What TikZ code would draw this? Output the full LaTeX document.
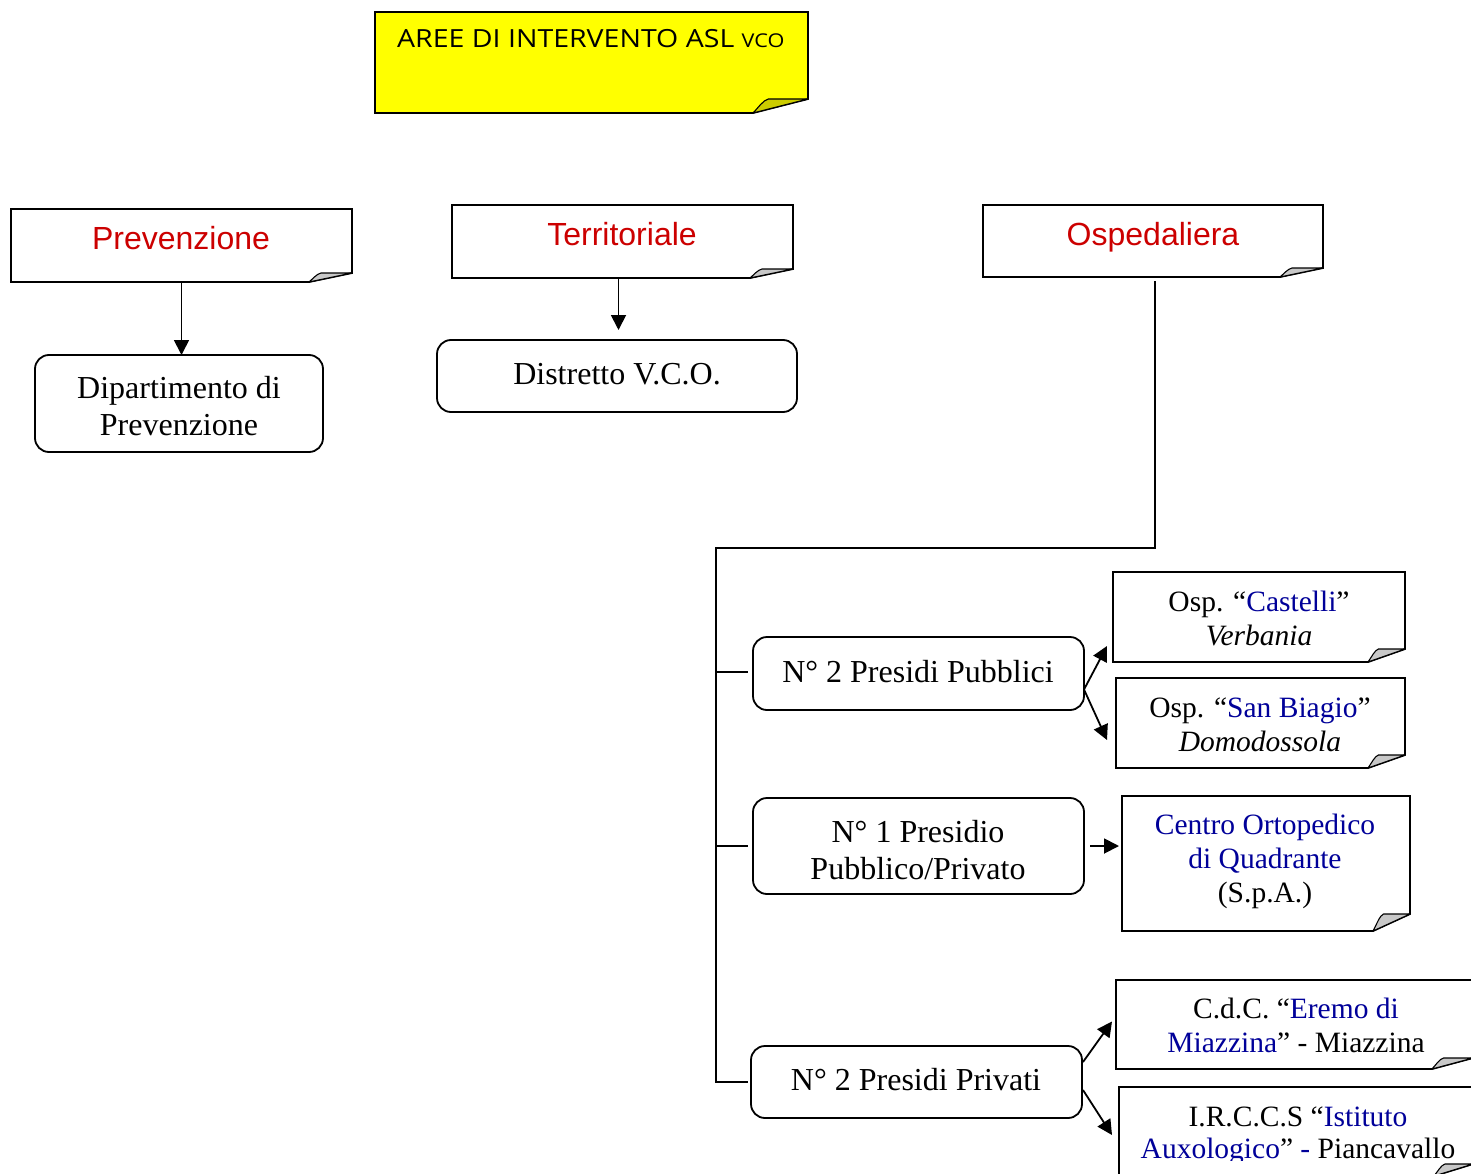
\documentclass[tikz,border=0pt]{standalone}
\usepackage{fontspec}
\setmainfont{Liberation Serif}
\newfontfamily\arialf{Liberation Sans}
\newfontfamily\titlef{Open Sans}
\usetikzlibrary{arrows.meta}
\definecolor{hred}{RGB}{204,0,0}
\definecolor{dblue}{RGB}{0,0,153}
\definecolor{yel}{RGB}{255,255,0}
\definecolor{foldgray}{RGB}{200,200,200}
\definecolor{foldyel}{RGB}{204,204,0}
\newcommand\ml[1]{\begin{tabular}[t]{@{}c@{}}#1\end{tabular}}
\newcommand\bl[1]{\textcolor{dblue}{#1}}
% #1 node, #2 fold width, #3 fold height, #4 fill, #5 fold fill
\newcommand\foldbox[5]{%
  \path[draw=black, line width=1.8pt, fill=#4, line join=miter]
    (#1.north west) -- (#1.north east) -- ([yshift=#3]#1.south east)
    -- ([xshift=-#2]#1.south east) -- (#1.south west) -- cycle;
  \path[draw=black, line width=1.1pt, fill=#5, line join=round]
    ([xshift=-#2]#1.south east)
    .. controls ([xshift=-0.9*#2, yshift=0.4*#3]#1.south east) and ([xshift=-0.82*#2, yshift=0.9*#3]#1.south east)
    .. ([xshift=-0.72*#2, yshift=#3]#1.south east)
    -- ([yshift=#3]#1.south east) -- cycle;}
\begin{document}
\begin{tikzpicture}[x=1pt,y=-1pt,
  shp/.style={rectangle, inner sep=0pt, outer sep=0pt, draw=none},
  rbox/.style={rectangle, rounded corners=14pt, draw, line width=1.8pt, fill=white, inner sep=0pt, outer sep=0pt},
  txt/.style={inner sep=0pt, outer sep=0pt, anchor=base, font=\fontsize{29.5}{34}\selectfont},
  txtr/.style={inner sep=0pt, outer sep=0pt, anchor=base, font=\fontsize{32}{37}\selectfont},
  hdr/.style={inner sep=0pt, outer sep=0pt, anchor=base, font=\arialf\fontsize{32}{38}\selectfont, text=hred},
  conn/.style={line width=1.8pt},
  arr/.style={line width=1.8pt, -{Triangle[length=15pt,width=15pt]}}]

\fill[white] (0,0) rectangle (1471,1174);
\useasboundingbox (0,0) rectangle (1471,1174);

% title
\node[shp, minimum width=433pt, minimum height=101pt] (ybox) at (591.5,62.5) {};
\foldbox{ybox}{55pt}{14pt}{yel}{foldyel}
\node[inner sep=0pt, anchor=base west, font=\titlef\fontsize{25}{28}\selectfont] (ttl) at (397,48)
  {\scalebox{1.14}[1]{AREE DI INTERVENTO ASL {\fontsize{19}{20}\selectfont VCO}}};

% headers
\node[shp, minimum width=341pt, minimum height=73pt] (prev) at (181.5,245.5) {};
\foldbox{prev}{43pt}{9pt}{white}{foldgray}
\node[hdr] (tprev) at (181,250) {Prevenzione};

\node[shp, minimum width=341pt, minimum height=73pt] (terr) at (622.5,241.5) {};
\foldbox{terr}{43pt}{9pt}{white}{foldgray}
\node[hdr] (tterr) at (622,246) {Territoriale};

\node[shp, minimum width=340pt, minimum height=72pt] (osp) at (1153,241) {};
\foldbox{osp}{43pt}{9pt}{white}{foldgray}
\node[hdr] (tosp) at (1153,245) {Ospedaliera};

% rounded boxes
\node[rbox, minimum width=288pt, minimum height=97pt] (dip) at (179,403.5) {};
\node[txtr] (tdip) at (179,398) {\ml{Dipartimento di\\Prevenzione}};

\node[rbox, minimum width=360pt, minimum height=72pt] (dist) at (617,376) {};
\node[txtr] (tdist) at (617,384) {Distretto V.C.O.};

\node[rbox, minimum width=331pt, minimum height=73pt] (pub) at (918.5,673.5) {};
\node[txtr] (tpub) at (918,682) {N° 2 Presidi Pubblici};

\node[rbox, minimum width=331pt, minimum height=96pt] (n1) at (918.5,846) {};
\node[txtr] (tn1) at (918,842) {\ml{N° 1 Presidio\\Pubblico/Privato}};

\node[rbox, minimum width=331pt, minimum height=72pt] (priv) at (916.5,1082) {};
\node[txtr] (tpriv) at (916,1090) {N° 2 Presidi Privati};

% right folded boxes
\node[shp, minimum width=292pt, minimum height=90pt] (cast) at (1259,617) {};
\foldbox{cast}{37pt}{13pt}{white}{foldgray}
\node[txt] (tcast) at (1259,611) {\ml{Osp. “\bl{Castelli}”\\\textit{Verbania}}};

\node[shp, minimum width=289pt, minimum height=90pt] (bia) at (1260.5,723) {};
\foldbox{bia}{37pt}{13pt}{white}{foldgray}
\node[txt] (tbia) at (1260,717) {\ml{Osp. “\bl{San Biagio}”\\\textit{Domodossola}}};

\node[shp, minimum width=288pt, minimum height=135pt] (cen) at (1266,863.5) {};
\foldbox{cen}{37pt}{17pt}{white}{foldgray}
\node[txt] (tcen) at (1265,834) {\ml{\bl{Centro Ortopedico}\\\bl{di Quadrante}\\(S.p.A.)}};

\node[shp, minimum width=357pt, minimum height=89pt] (ere) at (1294.5,1024.5) {};
\foldbox{ere}{41pt}{11pt}{white}{foldgray}
\node[txt] (tere) at (1296,1018) {\ml{C.d.C. “\bl{Eremo di}\\\bl{Miazzina}” - Miazzina}};

\node[shp, minimum width=354pt, minimum height=89pt] (pian) at (1296,1131.5) {};
\foldbox{pian}{39pt}{12pt}{white}{foldgray}
\begin{scope}
\clip (1100,1080) rectangle (1471,1160);
\node[txt, font=\fontsize{29.5}{32}\selectfont] (tpian) at (1298,1126) {\ml{I.R.C.C.S “\bl{Istituto}\\\bl{Auxologico}” \bl{-} Piancavallo}};
\end{scope}

% connectors
\draw[arr] (prev.south) -- (prev.south |- dip.north);
\draw[arr] ([xshift=-4pt]terr.south) -- ([xshift=-4pt, yshift=10pt]terr.south |- dist.north);

\coordinate (jtop) at (1155,548);
\coordinate (jleft) at (716,548);
\draw[conn] ([xshift=2pt, yshift=-4pt]osp.south) -- (jtop) -- (jleft) -- (jleft |- priv.west) -- ([xshift=-3pt]priv.west);
\draw[conn] ([yshift=1.5pt]jleft |- pub.west) -- ([xshift=-5pt, yshift=1.5pt]pub.west);
\draw[conn] (jleft |- n1.west) -- ([xshift=-5pt]n1.west);

\draw[arr] ([yshift=-16pt]pub.east) -- ([xshift=-6pt, yshift=-29pt]cast.west);
\draw[arr] ([yshift=-16pt]pub.east) -- ([xshift=-9pt, yshift=-17pt]bia.west);
\draw[arr] ([xshift=6pt]n1.east) -- ([xshift=-3pt]n1.east -| cen.west);
\draw[arr] ([xshift=1pt, yshift=20pt]priv.east) -- ([xshift=-4pt, yshift=3pt]ere.west);
\draw[arr] ([xshift=1pt, yshift=-8pt]priv.east) -- ([xshift=-7pt, yshift=-3.5pt]pian.west);
\end{tikzpicture}
\end{document}
